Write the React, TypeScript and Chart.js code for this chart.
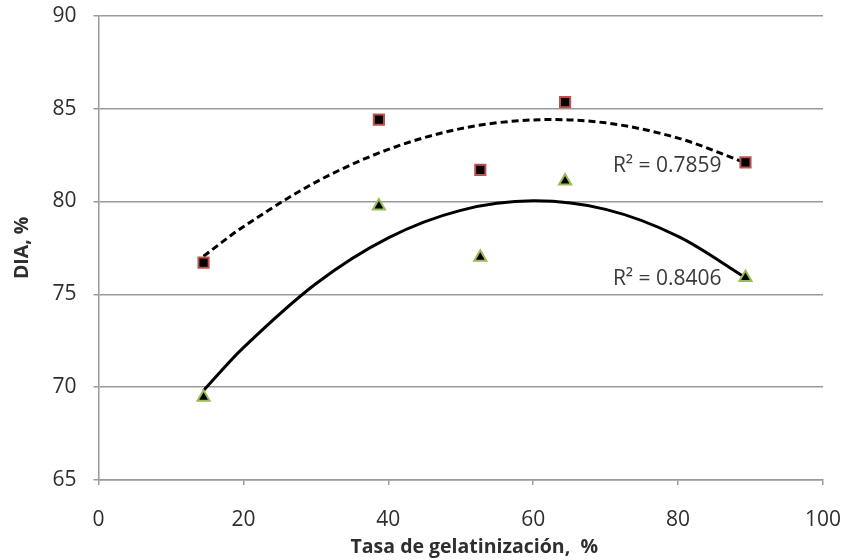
import React, { useEffect, useRef } from 'react';
import { Chart, registerables } from 'chart.js';

Chart.register(...registerables);

// Data
const gelatinization = [14.5, 38.7, 52.7, 64.4, 89.3];
const diaSquares = [76.7, 84.4, 81.7, 85.35, 82.1];
const diaTriangles = [69.45, 79.75, 77.0, 81.1, 75.9];

// Polynomial trend lines (order 2)
const trendX = [14.5, 20, 30, 40, 50, 60, 70, 80, 89.3];
const trendSquares = [77.05, 78.64, 81.04, 82.8, 83.92, 84.39, 84.23, 83.41, 82.08];
const trendTriangles = [69.82, 72.13, 75.57, 78.04, 79.52, 80.03, 79.57, 78.12, 75.9];

const r2Labels = ['R² = 0.7859', 'R² = 0.8406'];
const r2LabelX = [71.0, 71.0];
const r2LabelY = [81.92, 75.81];

const xTitle = 'Tasa de gelatinización,  %';
const yTitle = 'DIA, %';

const FONT = '"Open Sans", "Noto Sans", sans-serif';
const GRID = '#9a9a9a';
const TEXT = '#2e2e2e';

const toPoints = (xs: number[], ys: number[]) => xs.map((x, i) => ({ x, y: ys[i] }));

const textPlugin = {
  id: 'extraText',
  afterDraw(chart: any) {
    const { ctx, scales, chartArea } = chart;
    const xs = scales.x;
    const ys = scales.y;
    ctx.save();
    ctx.font = `21px ${FONT}`;
    ctx.fillStyle = '#3a3a3a';
    ctx.textAlign = 'left';
    ctx.textBaseline = 'middle';
    r2Labels.forEach((t, i) => {
      ctx.fillText(t, xs.getPixelForValue(r2LabelX[i]), ys.getPixelForValue(r2LabelY[i]));
    });
    // x-axis title
    ctx.font = `bold 19.5px ${FONT}`;
    ctx.fillStyle = TEXT;
    ctx.textAlign = 'center';
    ctx.textBaseline = 'middle';
    ctx.fillText(xTitle, (chartArea.left + chartArea.right) / 2 + 13.5, 547);
    ctx.restore();
  },
};

const zeroPadding = (s: any) => {
  s.paddingTop = 0;
  s.paddingBottom = 0;
  s.paddingLeft = 0;
  s.paddingRight = 0;
};

export default function App() {
  const ref = useRef<HTMLCanvasElement | null>(null);

  useEffect(() => {
    if (!ref.current) return;
    const chart = new Chart(ref.current, {
      type: 'scatter',
      data: {
        datasets: [
          {
            label: 'Cuadrados',
            data: toPoints(gelatinization, diaSquares),
            pointStyle: 'rect',
            pointRadius: 7.2,
            backgroundColor: '#000000',
            borderColor: '#c0504d',
            borderWidth: 2,
            showLine: false,
            order: 0,
          },
          {
            label: 'Triángulos',
            data: toPoints(gelatinization, diaTriangles),
            pointStyle: 'triangle',
            pointRadius: 7,
            backgroundColor: '#000000',
            borderColor: '#9bbb59',
            borderWidth: 2,
            showLine: false,
            order: 1,
          },
          {
            label: 'Tendencia cuadrados',
            data: toPoints(trendX, trendSquares),
            showLine: true,
            pointRadius: 0,
            borderColor: '#000000',
            borderWidth: 3,
            borderDash: [7, 4],
            tension: 0.33,
            fill: false,
            order: 2,
          },
          {
            label: 'Tendencia triángulos',
            data: toPoints(trendX, trendTriangles),
            showLine: true,
            pointRadius: 0,
            borderColor: '#000000',
            borderWidth: 3,
            tension: 0.33,
            fill: false,
            order: 3,
          },
        ],
      },
      options: {
        animation: false,
        responsive: false,
        maintainAspectRatio: false,
        layout: { padding: { top: 15.7, right: 21, bottom: 0, left: 0 } },
        plugins: {
          legend: { display: false },
          tooltip: { enabled: false },
        },
        scales: {
          x: {
            type: 'linear',
            min: 0,
            max: 100,
            ticks: {
              stepSize: 20,
              color: TEXT,
              font: { family: FONT, size: 21 },
              padding: 22,
              maxRotation: 0,
            },
            grid: {
              drawOnChartArea: false,
              color: GRID,
              lineWidth: 1.5,
              tickLength: 5,
            },
            border: { color: GRID, width: 1.5 },
            title: { display: false },
            afterFit: (s: any) => {
              s.height = 80;
              zeroPadding(s);
            },
          },
          y: {
            type: 'linear',
            min: 65,
            max: 90,
            ticks: {
              stepSize: 5,
              color: TEXT,
              font: { family: FONT, size: 21 },
              padding: 17,
            },
            grid: {
              color: GRID,
              lineWidth: 1.5,
              tickLength: 5,
            },
            border: { color: GRID, width: 1.5 },
            title: {
              display: true,
              text: yTitle,
              color: TEXT,
              font: { family: FONT, size: 19.5, weight: 'bold' },
              padding: { top: 10.3, bottom: 0 },
            },
            afterFit: (s: any) => {
              s.width = 98.5;
              zeroPadding(s);
            },
          },
        },
      } as any,
      plugins: [textPlugin],
    });
    return () => chart.destroy();
  }, []);

  return (
    <div style={{ position: 'absolute', left: 0, top: 0, width: 844, height: 560, background: '#ffffff' }}>
      <canvas ref={ref} width={844} height={560} style={{ display: 'block' }} />
    </div>
  );
}
